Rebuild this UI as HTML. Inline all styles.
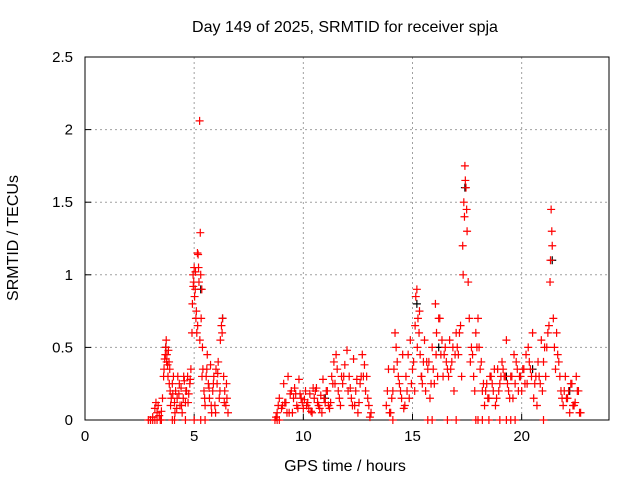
<!DOCTYPE html>
<html><head><meta charset="utf-8"><style>
body{margin:0;background:#fff}
svg text{font-family:"Liberation Sans",sans-serif;font-size:15px;fill:#000}
svg text.big{font-size:16px}
</style></head><body>
<svg id="chart" width="640" height="480">
<text class="big" x="345" y="32" text-anchor="middle">Day 149 of 2025, SRMTID for receiver spja</text>
<text class="big" x="345" y="471" text-anchor="middle">GPS time / hours</text>
<text class="big" transform="translate(18,238) rotate(-90)" text-anchor="middle">SRMTID / TECUs</text>
<g id="grid"></g>
<g id="axes"></g>
<g id="pts"></g>
</svg>
<script>
const xTicks=[0,5,10,15,20];
const yTicks=[0,0.5,1,1.5,2,2.5];
const yTickLabels=["0","0.5","1","1.5","2","2.5"];
const times=[2.9,3.0,3.1,3.2,3.25,3.3,3.35,3.4,3.45,3.5,3.55,3.6,3.65,3.7,3.72,3.75,3.78,3.8,3.82,3.85,3.88,3.9,3.95,4.0,4.05,4.1,4.15,4.2,
4.25,4.3,4.35,4.4,4.45,4.5,4.55,4.6,4.65,4.7,4.75,4.8,4.85,4.9,
4.92,4.95,4.98,5.0,5.02,5.05,5.08,5.1,5.12,5.15,5.18,5.2,5.22,5.25,5.28,5.3,5.32,5.35,5.38,5.4,
5.45,5.5,5.55,5.6,5.65,5.7,5.75,5.8,5.85,5.9,5.95,6.0,6.05,6.1,6.15,6.2,6.25,6.3,6.35,6.4,6.45,6.5,6.55,
3.0,3.1,3.2,3.3,3.5,4.0,4.1,4.6,5.0,5.3,5.5,
3.62,3.68,3.74,3.86,3.92,4.02,4.12,4.22,4.32,4.42,4.52,4.62,4.72,4.82,4.96,5.06,5.16,5.26,5.36,5.48,5.58,5.68,5.78,5.88,5.98,6.08,6.18,6.28,6.38,6.48,
8.7,8.8,8.9,9.0,9.1,9.2,9.3,9.4,9.5,9.6,9.7,9.8,9.9,10.0,10.1,10.2,10.3,10.4,10.5,10.6,10.7,10.8,10.9,11.0,11.1,11.2,11.3,11.4,11.5,11.55,11.6,11.7,11.8,11.9,12.0,12.1,12.2,12.3,12.4,12.5,12.6,12.7,12.8,12.9,13.0,13.1,
9.05,9.35,9.65,9.95,10.25,10.55,10.85,11.15,11.45,11.75,12.05,12.35,12.65,12.95,
8.75,8.85,9.15,9.25,9.45,9.55,9.75,9.85,10.05,10.15,10.35,10.45,10.65,10.75,10.95,11.05,11.25,11.35,11.65,11.85,12.15,12.25,12.45,12.55,12.75,12.85,13.05,8.8,8.9,
13.8,13.9,14.0,14.1,14.2,14.25,14.3,14.4,14.5,14.6,14.7,14.8,14.9,15.0,15.1,15.15,15.2,15.25,15.3,15.35,15.4,15.5,15.6,15.7,15.8,15.9,16.0,16.05,16.1,16.2,16.3,16.4,16.5,16.6,16.7,16.8,16.9,17.0,17.1,17.2,17.3,17.35,17.4,17.45,17.5,17.55,17.6,17.7,17.8,17.9,18.0,18.1,18.2,18.3,18.4,18.5,18.6,18.7,18.8,18.9,19.0,19.1,19.2,19.3,19.4,19.5,19.6,19.7,19.8,19.9,20.0,20.1,20.2,20.3,20.4,20.5,20.6,20.7,20.8,20.9,21.0,21.1,21.2,21.3,21.35,21.4,21.45,21.5,21.6,21.7,21.8,21.9,22.0,22.1,22.2,22.3,22.4,22.5,22.6,22.7,
14.15,14.45,14.85,15.45,15.75,16.15,16.45,16.75,17.05,17.25,17.65,17.95,18.35,18.75,19.25,19.65,20.25,20.65,21.05,21.55,21.85,22.15,22.45,
13.85,13.95,14.05,14.35,14.55,14.65,14.75,14.95,15.05,15.12,15.22,15.32,15.42,15.55,15.65,15.85,15.95,16.08,16.25,16.35,16.55,16.65,16.85,16.95,17.15,17.32,17.38,17.42,17.48,17.75,17.85,18.05,18.15,18.25,18.45,18.55,18.65,18.85,18.95,19.05,19.15,19.35,19.45,19.55,19.75,19.85,19.95,20.05,20.15,20.35,20.45,20.55,20.75,20.85,20.95,21.15,21.25,21.32,21.38,21.65,21.75,21.95,22.05,22.25,22.35,22.55,22.65,
18.0,18.5,19.0,19.5,21.0,16.6,14.1,15.7,15.9,17.0,17.9,18.2,19.3,19.7];
const values=[0,0,0.02,0.08,0.12,0.05,0.1,0.03,0.0,0.06,0.15,0.3,0.42,0.5,0.55,0.45,0.38,0.3,0.48,0.4,0.35,0.2,0.15,0.25,0.3,0.12,0.2,0.08,
0.3,0.18,0.1,0.22,0.05,0.15,0.27,0.12,0.2,0.3,0.18,0.25,0.35,0.6,
0.8,1.0,0.95,1.05,0.85,0.9,0.7,0.75,0.6,1.15,1.14,1.05,0.95,2.06,1.29,1.0,0.7,0.9,0.5,0.35,
0.2,0.1,0.3,0.45,0.25,0.15,0.38,0.05,0.2,0.3,0.1,0.35,0.25,0.4,0.15,0.55,0.65,0.7,0.3,0.2,0.1,0.15,0.05,
0,0,0,0,0,0,0,0,0,0,0,
0.35,0.45,0.4,0.25,0.1,0.18,0.05,0.15,0.25,0.1,0.3,0.2,0.12,0.28,0.92,1.02,0.65,0.55,0.3,0.15,0.35,0.22,0.1,0.25,0.05,0.32,0.2,0.6,0.12,0.25,
0,0.05,0.15,0.08,0.25,0.12,0.3,0.18,0.05,0.22,0.1,0.28,0.15,0.08,0.2,0.12,0.18,0.05,0.15,0.22,0.1,0.17,0.28,0.12,0.2,0.08,0.3,0.4,0.45,0.35,0.2,0.1,0.25,0.38,0.48,0.3,0.15,0.42,0.2,0.05,0.25,0.45,0.38,0.3,0.1,0.05,
0.1,0.05,0.18,0.12,0.08,0.2,0.05,0.1,0.25,0.3,0.2,0.1,0.3,0.15,
0.02,0.1,0.12,0.05,0.2,0.15,0.08,0.18,0.14,0.1,0.06,0.22,0.12,0.08,0.15,0.2,0.12,0.25,0.15,0.3,0.22,0.1,0.28,0.12,0.3,0.2,0.02,0,0,
0.1,0.35,0.05,0.2,0.6,0.5,0.4,0.25,0.15,0.08,0.3,0.45,0.55,0.35,0.2,0.85,0.9,0.7,0.6,0.45,0.3,0.4,0.2,0.35,0.15,0.5,0.25,0.8,0.6,0.7,0.45,0.3,0.5,0.35,0.55,0.4,0.2,0.6,0.45,0.65,1.2,1.5,1.75,1.6,1.3,0.95,0.7,0.5,0.3,0.6,0.7,0.35,0.2,0.1,0.25,0.15,0.3,0.2,0.1,0.35,0.25,0.4,0.3,0.55,0.2,0.3,0.15,0.25,0.35,0.3,0.2,0.35,0.45,0.5,0.35,0.6,0.25,0.1,0.3,0.55,0.4,0.3,0.6,0.95,1.45,1.2,0.7,0.5,0.6,0.4,0.2,0.1,0.3,0.15,0.05,0.25,0.1,0.3,0.2,0.05,
0.35,0.2,0.15,0.25,0.4,0.3,0.45,0.35,0.5,0.3,0.4,0.5,0.2,0.35,0.3,0.45,0.25,0.3,0.5,0.35,0.15,0.2,0.12,
0.2,0.05,0.15,0.3,0.45,0.1,0.2,0.25,0.4,0.65,0.5,0.75,0.3,0.55,0.4,0.25,0.35,0.45,0.7,0.55,0.4,0.3,0.5,0.45,0.6,1.0,1.4,1.65,1.45,0.45,0.2,0.5,0.4,0.25,0.15,0.3,0.25,0.15,0.2,0.3,0.35,0.25,0.15,0.3,0.4,0.2,0.3,0.35,0.25,0.4,0.3,0.15,0.4,0.25,0.2,0.5,0.65,1.1,1.3,0.45,0.3,0.2,0.15,0.25,0.1,0.2,0.05,
0,0,0,0,0,0,0,0,0,0,0,0,0,0];
const blackTimes=[3.7,5.3,6.3,11.0,15.2,16.2,17.4,19.3,20.5,21.4,22.2];
const blackValues=[0.5,0.9,0.7,0.15,0.8,0.5,1.6,0.3,0.35,1.1,0.2];
const NS="http://www.w3.org/2000/svg";
const L=85,R=609,T=57,B=420,XMAX=24,YMAX=2.5;
function xs(t){return L+(R-L)*t/XMAX;}
function ys(v){return B-(B-T)*v/YMAX;}
function mk(tag,attrs,parent){const e=document.createElementNS(NS,tag);for(const k in attrs)e.setAttribute(k,attrs[k]);parent.appendChild(e);return e;}
const grid=document.getElementById('grid'),axes=document.getElementById('axes'),pts=document.getElementById('pts');
xTicks.forEach((t,i)=>{
 const x=xs(t);
 if(t>0){const g=mk('line',{x1:x,y1:T,x2:x,y2:B,stroke:'#a0a0a0','stroke-dasharray':'2,3'},grid);
 
 }
 const tk=mk('line',{x1:x,y1:B,x2:x,y2:B-6,stroke:'#000'},axes);
 
 
 const lb=mk('text',{x:x,y:B+21,'text-anchor':'middle'},axes);lb.textContent=String(t);
 
 
});
yTicks.forEach((v,i)=>{
 const y=ys(v);
 if(v>0&&v<YMAX){const g=mk('line',{x1:L,y1:y,x2:R,y2:y,stroke:'#a0a0a0','stroke-dasharray':'2,3'},grid);
 
 }
 const tk=mk('line',{x1:L,y1:y,x2:L+6,y2:y,stroke:'#000'},axes);
 
 
 const lb=mk('text',{x:L-12,y:y+5,'text-anchor':'end'},axes);lb.textContent=yTickLabels[i];
 
 
});
const fr=mk('rect',{x:L,y:T,width:R-L,height:B-T,fill:'none',stroke:'#000','stroke-width':1},axes);


function plus(t,v,col){
 const x=xs(t),y=ys(v),s=4;
 const p=mk('path',{d:`M${x-s},${y}H${x+s}M${x},${y-s}V${y+s}`,stroke:col,'stroke-width':1.2,fill:'none'},pts);
 return p;
}
blackTimes.forEach((t,i)=>{const p=plus(t,blackValues[i],'#000');
 
 });
times.forEach((t,i)=>{const p=plus(t,values[i],'#ff0000');
 
 });
</script>
</body></html>
